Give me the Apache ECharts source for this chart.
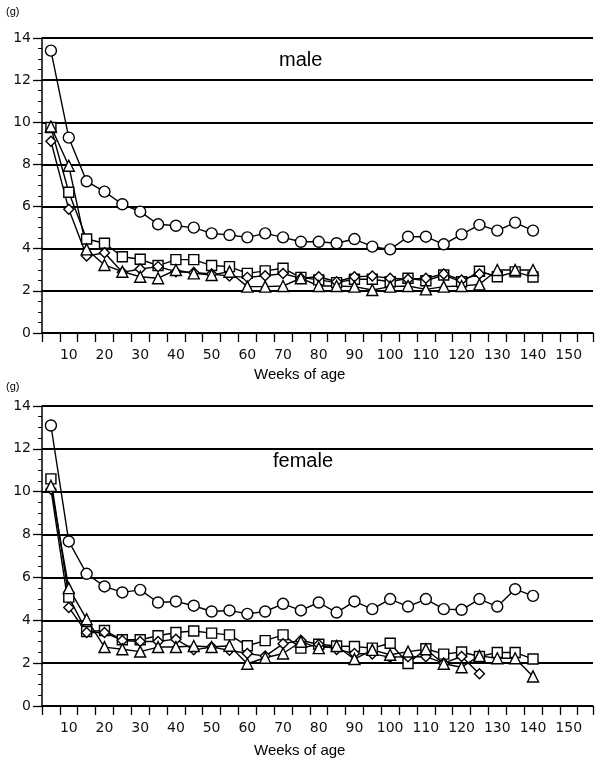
<!DOCTYPE html>
<html>
<head>
<meta charset="utf-8">
<script src="https://cdn.jsdelivr.net/npm/echarts@6/dist/echarts.min.js"></script>
<style>
  html, body { margin: 0; padding: 0; background: #fff; }
  #chart { width: 596px; height: 766px; }
</style>
</head>
<body>
<div id="chart"></div>
<script>
var weeks = [5, 10, 15, 20, 25, 30, 35, 40, 45, 50, 55, 60, 65, 70,
             75, 80, 85, 90, 95, 100, 105, 110, 115, 120, 125, 130, 135, 140];
var xLabels = [10, 20, 30, 40, 50, 60, 70, 80, 90, 100, 110, 120, 130, 140, 150];
var yTicks = [0, 2, 4, 6, 8, 10, 12, 14];

// male
var maleCircle = [13.4, 9.27, 7.2, 6.71, 6.11, 5.76, 5.16, 5.09, 5.0, 4.73, 4.65, 4.54, 4.73, 4.54,
                  4.33, 4.33, 4.26, 4.46, 4.1, 3.97, 4.57, 4.57, 4.21, 4.68, 5.13, 4.86, 5.24, 4.86];
var maleSquare = [9.75, 6.68, 4.46, 4.26, 3.62, 3.5, 3.2, 3.48, 3.48, 3.2, 3.15, 2.83, 2.95, 3.07,
                  2.64, 2.52, 2.39, 2.55, 2.55, 2.43, 2.6, 2.48, 2.75, 2.43, 2.93, 2.67, 2.9, 2.66];
var maleDiamond = [9.1, 5.87, 3.65, 3.81, 2.88, 3.04, 3.15, 2.91, 2.87, 2.8, 2.7, 2.64, 2.72, 2.82,
                   2.6, 2.67, 2.43, 2.67, 2.7, 2.6, 2.55, 2.6, 2.8, 2.52, 2.8];
var maleTriangle = [9.8, 7.94, 3.97, 3.23, 2.91, 2.67, 2.6, 2.99, 2.83, 2.75, 2.91, 2.2, 2.2, 2.23,
                    2.6, 2.23, 2.23, 2.2, 2.04, 2.2, 2.23, 2.07, 2.2, 2.23, 2.31, 2.99, 2.99, 2.99];

// female
var femaleCircle = [13.09, 7.68, 6.17, 5.58, 5.3, 5.42, 4.83, 4.88, 4.68, 4.41, 4.46, 4.3, 4.41, 4.77,
                    4.46, 4.83, 4.36, 4.88, 4.52, 4.99, 4.64, 4.99, 4.52, 4.49, 4.99, 4.64, 5.45, 5.14];
var femaleSquare = [10.6, 5.08, 3.48, 3.52, 3.09, 3.09, 3.28, 3.43, 3.5, 3.4, 3.32, 2.81, 3.05, 3.32,
                    2.7, 2.88, 2.8, 2.78, 2.7, 2.93, 1.98, 2.67, 2.42, 2.52, 2.31, 2.5, 2.5, 2.19];
var femaleDiamond = [10.12, 4.6, 3.43, 3.43, 3.06, 3.01, 3.01, 3.12, 2.62, 2.75, 2.6, 2.45, 2.33, 2.9,
                     3.07, 2.87, 2.64, 2.45, 2.43, 2.28, 2.3, 2.3, 2.0, 2.31, 1.5];
var femaleTriangle = [10.27, 5.5, 4.05, 2.75, 2.65, 2.54, 2.75, 2.75, 2.8, 2.75, 2.81, 1.97, 2.25, 2.45,
                      3.0, 2.7, 2.8, 2.19, 2.62, 2.39, 2.54, 2.65, 1.97, 1.81, 2.34, 2.23, 2.23, 1.38];

var font = 'Liberation Sans, Arial, sans-serif';
var tickFont = 'DejaVu Sans, Verdana, sans-serif';
var xMin = 2.5, xMax = 156.8;

function pairs(vals) {
    return vals.map(function (v, i) { return [weeks[i], v]; });
}

function line(name, vals, symbol, size, grid) {
    return {
        name: name,
        type: 'line',
        xAxisIndex: grid * 2,
        yAxisIndex: grid,
        data: pairs(vals),
        symbol: symbol,
        symbolSize: size,
        lineStyle: { color: '#000', width: 1.4 },
        itemStyle: { color: '#fff', borderColor: '#000', borderWidth: 1.4 },
        animation: false,
        z: 3
    };
}

function xAxes(grid) {
    return [{
        type: 'value', gridIndex: grid, position: 'bottom', min: xMin, max: xMax, interval: 5,
        axisLine: { lineStyle: { color: '#000', width: 1.5 } },
        axisTick: { length: 9, lineStyle: { color: '#000', width: 1.3 } },
        axisLabel: { show: false },
        splitLine: { show: false }
    }, {
        // label-only axis so the numbers sit between the tick marks
        type: 'value', gridIndex: grid, position: 'bottom', min: xMin, max: xMax, interval: 2.5,
        axisLine: { show: false }, axisTick: { show: false }, splitLine: { show: false },
        axisLabel: {
            margin: 15, color: '#111', fontSize: 14, fontFamily: tickFont,
            formatter: function (v) { return xLabels.indexOf(v) >= 0 ? String(v) : ''; }
        }
    }];
}

function yAxis(grid) {
    return {
        type: 'value', gridIndex: grid, min: yTicks[0], max: yTicks[yTicks.length - 1], interval: 2,
        axisLine: { show: true, lineStyle: { color: '#000', width: 1.5 } },
        axisTick: { show: true, length: 9, lineStyle: { color: '#000', width: 1.3 } },
        minorTick: { show: true, splitNumber: 4, length: 4, lineStyle: { color: '#000', width: 1 } },
        axisLabel: { margin: 11, color: '#111', fontSize: 14, fontFamily: tickFont },
        splitLine: { show: true, lineStyle: { color: '#000', width: 1.8 } }
    };
}

function text(x, y, str, size) {
    return {
        type: 'text', left: x, top: y,
        style: { text: str, fontSize: size, fontFamily: font, fill: '#000' }
    };
}

var chart = echarts.init(document.getElementById('chart'));
chart.setOption({
    backgroundColor: '#fff',
    animation: false,
    grid: [
        { left: 42, right: 0, top: 38, height: 295 },
        { left: 42, right: 0, top: 406, height: 300 }
    ],
    xAxis: xAxes(0).concat(xAxes(1)),
    yAxis: [yAxis(0), yAxis(1)],
    graphic: [
        text(6, 6, '(g)', 11),
        text(279, 50, 'male', 20),
        text(273, 451, 'female', 20),
        text(6, 381, '(g)', 11),
        text(254, 367, 'Weeks of age', 15),
        text(254, 743, 'Weeks of age', 15)
    ],
    series: [
        line('male circle', maleCircle, 'circle', 11, 0),
        line('male square', maleSquare, 'rect', 10, 0),
        line('male diamond', maleDiamond, 'diamond', 10, 0),
        line('male triangle', maleTriangle, 'triangle', 11, 0),
        line('female circle', femaleCircle, 'circle', 11, 1),
        line('female square', femaleSquare, 'rect', 10, 1),
        line('female diamond', femaleDiamond, 'diamond', 10, 1),
        line('female triangle', femaleTriangle, 'triangle', 11, 1)
    ]
});
</script>
</body>
</html>
